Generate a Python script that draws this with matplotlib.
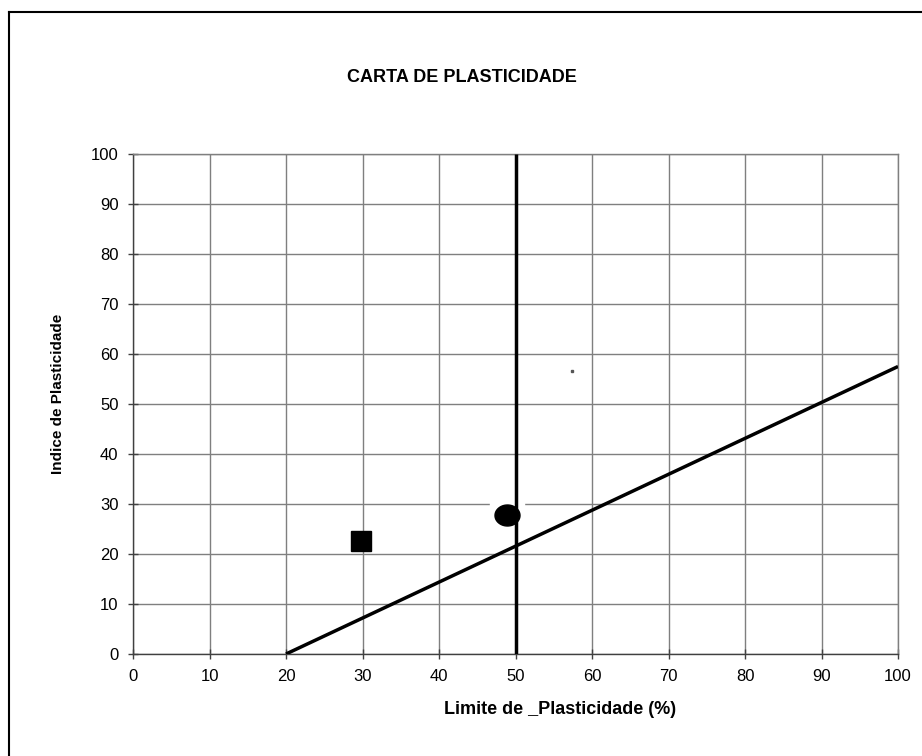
import matplotlib
matplotlib.use("Agg")
import matplotlib.pyplot as plt
from matplotlib.lines import Line2D
from matplotlib.path import Path
import numpy as np

# Data
a_line_x = [20, 100]
a_line_y = [0, 57.5]
b_line_x = [50, 50]
b_line_y = [0, 100]
square_x = [29.8]
square_y = [22.7]
circle_x = [48.9]
circle_y = [27.9]
dot_x = [57.4]
dot_y = [56.6]
x_ticks = [0, 10, 20, 30, 40, 50, 60, 70, 80, 90, 100]
y_ticks = [0, 10, 20, 30, 40, 50, 60, 70, 80, 90, 100]

plt.rcParams['font.family'] = ['Liberation Sans', 'DejaVu Sans']

fig = plt.figure(figsize=(9.22, 7.56), dpi=100)
ax = fig.add_axes([133/922, 1-654/756, (898-133)/922, (654-154)/756])

ax.set_xlim(0, 100)
ax.set_ylim(0, 100)
ax.set_xticks(x_ticks)
ax.set_yticks(y_ticks)
ax.grid(True, color='#7f7f7f', linewidth=1.0, zorder=0)
ax.set_axisbelow(True)
for s in ax.spines.values():
    s.set_color('#7f7f7f')
    s.set_linewidth(1.0)
ax.spines['left'].set_color('#404040')
ax.spines['bottom'].set_color('#404040')
ax.tick_params(direction='inout', length=7, width=1, color='#404040', labelsize=12, pad=7)

# elliptical marker
t = np.linspace(0, 2*np.pi, 60)
ellipse = Path(np.column_stack([np.cos(t), 0.84*np.sin(t)]), closed=True)

# white patch behind circle (hides grid there)
ax.plot(circle_x, circle_y, marker='s', markersize=24, color='white', linestyle='none', zorder=1)

ax.plot(a_line_x, a_line_y, color='black', linewidth=2.5, zorder=3, solid_capstyle='butt')
ax.plot(b_line_x, b_line_y, color='black', linewidth=2.5, zorder=3, solid_capstyle='butt')
ax.plot(square_x, square_y, marker='s', markersize=15, color='black', linestyle='none', zorder=4)
ax.plot(circle_x, circle_y, marker=ellipse, markersize=18, color='black', linestyle='none', zorder=4)
ax.plot(dot_x, dot_y, marker='s', markersize=1.5, color='#555555', linestyle='none', zorder=4)

fig.text(462/922, 1-77/756, 'CARTA DE PLASTICIDADE', ha='center', va='center',
         fontsize=13, fontweight='bold')
fig.text(560/922, 1-710/756, 'Limite de _Plasticidade (%)', ha='center', va='center',
         fontsize=13, fontweight='bold')
fig.text(58/922, 1-394/756, 'Indice de Plasticidade', ha='center', va='center',
         fontsize=11, fontweight='bold', rotation=90)

# outer border (left and top visible)
fig.add_artist(Line2D([9/922, 9/922], [0, 1-12/756], color='black', linewidth=1.5, transform=fig.transFigure))
fig.add_artist(Line2D([9/922, 1], [1-12/756, 1-12/756], color='black', linewidth=1.5, transform=fig.transFigure))

fig.savefig('out.png', dpi=100)
